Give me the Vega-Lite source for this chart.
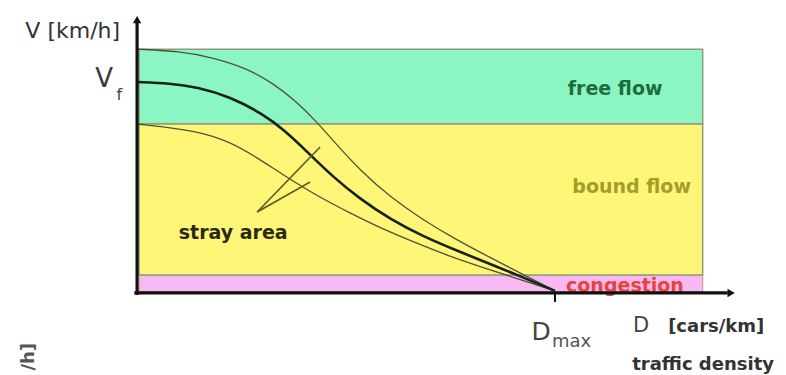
{
  "$schema": "https://vega.github.io/schema/vega-lite/v6.json",
  "width": 786,
  "height": 375,
  "padding": 0,
  "autosize": "none",
  "background": "white",
  "config": {"view": {"stroke": null}, "font": "DejaVu Sans"},
  "datasets": {
    "bands": [
      {"regime": "free flow", "D0": 0.7, "D1": 203, "V0": 80.1, "V1": 115.6},
      {"regime": "bound flow", "D0": 0.7, "D1": 203, "V0": 8.5, "V1": 80.1},
      {"regime": "congestion", "D0": 0.7, "D1": 203, "V0": 0.5, "V1": 8.5}
    ],
    "curves": [
      {"curve": "upper", "D": 0, "V": 115.6},
      {"curve": "upper", "D": 15.4, "V": 114.6},
      {"curve": "upper", "D": 27.3, "V": 111.6},
      {"curve": "upper", "D": 39.5, "V": 106.4},
      {"curve": "upper", "D": 48.8, "V": 99.5},
      {"curve": "upper", "D": 57.4, "V": 90.5},
      {"curve": "upper", "D": 64.6, "V": 81.0},
      {"curve": "upper", "D": 71.8, "V": 70.0},
      {"curve": "upper", "D": 80.6, "V": 57.5},
      {"curve": "upper", "D": 90.8, "V": 45.5},
      {"curve": "upper", "D": 102.6, "V": 34.6},
      {"curve": "upper", "D": 114.8, "V": 25.1},
      {"curve": "upper", "D": 126.7, "V": 16.8},
      {"curve": "upper", "D": 138.5, "V": 8.8},
      {"curve": "upper", "D": 150, "V": 1.0},
      {"curve": "middle", "D": 0, "V": 100.0},
      {"curve": "middle", "D": 11.8, "V": 99.4},
      {"curve": "middle", "D": 21.5, "V": 97.6},
      {"curve": "middle", "D": 33.4, "V": 93.0},
      {"curve": "middle", "D": 45.2, "V": 84.8},
      {"curve": "middle", "D": 53.0, "V": 77.0},
      {"curve": "middle", "D": 61.0, "V": 67.0},
      {"curve": "middle", "D": 70.3, "V": 55.0},
      {"curve": "middle", "D": 80.0, "V": 44.6},
      {"curve": "middle", "D": 90.8, "V": 35.0},
      {"curve": "middle", "D": 102.6, "V": 26.8},
      {"curve": "middle", "D": 114.8, "V": 20.0},
      {"curve": "middle", "D": 126.7, "V": 13.8},
      {"curve": "middle", "D": 138.5, "V": 7.4},
      {"curve": "middle", "D": 150, "V": 1.0},
      {"curve": "lower", "D": 0, "V": 80.1},
      {"curve": "lower", "D": 21.5, "V": 77.0},
      {"curve": "lower", "D": 33.4, "V": 71.6},
      {"curve": "lower", "D": 43.1, "V": 64.2},
      {"curve": "lower", "D": 52.4, "V": 56.0},
      {"curve": "lower", "D": 64.6, "V": 46.0},
      {"curve": "lower", "D": 76.4, "V": 37.9},
      {"curve": "lower", "D": 88.3, "V": 30.2},
      {"curve": "lower", "D": 100.5, "V": 23.5},
      {"curve": "lower", "D": 112.3, "V": 17.3},
      {"curve": "lower", "D": 124.2, "V": 12.0},
      {"curve": "lower", "D": 136.4, "V": 6.8},
      {"curve": "lower", "D": 150, "V": 1.0}
    ],
    "pointers": [
      {"D": 43.1, "V": 38.4, "D2": 65.7, "V2": 69.2},
      {"D": 43.1, "V": 38.4, "D2": 62.1, "V2": 52.6}
    ]
  },
  "encoding": {
    "x": {"type": "quantitative", "scale": {"domain": [-49.2, 232.9], "nice": false, "zero": false}, "axis": null},
    "y": {"type": "quantitative", "scale": {"domain": [-38.9, 138.9], "nice": false, "zero": false}, "axis": null}
  },
  "layer": [
    {
      "data": {"name": "bands"},
      "transform": [{"filter": "datum.regime === 'congestion'"}],
      "mark": {"type": "rect", "stroke": "#b8a98a", "strokeWidth": 1.2, "fill": "#f8b8f4"},
      "encoding": {
        "x": {"field": "D0", "type": "quantitative"},
        "x2": {"field": "D1"},
        "y": {"field": "V0", "type": "quantitative"},
        "y2": {"field": "V1"}
      }
    },
    {
      "data": {"values": [{"label": "congestion", "D": 175.1, "V": 0.4}]},
      "mark": {"type": "text", "align": "center", "baseline": "alphabetic", "fontSize": 19, "fontWeight": "bold", "color": "#e8443c"},
      "encoding": {
        "x": {"field": "D", "type": "quantitative"},
        "y": {"field": "V", "type": "quantitative"},
        "text": {"field": "label"}
      }
    },
    {
      "data": {"name": "bands"},
      "transform": [{"filter": "datum.regime !== 'congestion'"}],
      "mark": {"type": "rect", "stroke": "#8f9c78", "strokeWidth": 1.5},
      "encoding": {
        "x": {"field": "D0", "type": "quantitative"},
        "x2": {"field": "D1"},
        "y": {"field": "V0", "type": "quantitative"},
        "y2": {"field": "V1"},
        "fill": {
          "field": "regime",
          "type": "nominal",
          "scale": {"domain": ["free flow", "bound flow"], "range": ["#8cf5c4", "#fff677"]},
          "legend": null
        }
      }
    },
    {
      "data": {"name": "curves"},
      "transform": [{"filter": "datum.curve !== 'middle'"}],
      "mark": {"type": "line", "interpolate": "basis", "stroke": "#4e5236", "strokeWidth": 1.3},
      "encoding": {
        "x": {"field": "D", "type": "quantitative"},
        "y": {"field": "V", "type": "quantitative"},
        "detail": {"field": "curve"}
      }
    },
    {
      "data": {"name": "curves"},
      "transform": [{"filter": "datum.curve === 'middle'"}],
      "mark": {"type": "line", "interpolate": "basis", "stroke": "#16221c", "strokeWidth": 2.6},
      "encoding": {
        "x": {"field": "D", "type": "quantitative"},
        "y": {"field": "V", "type": "quantitative"}
      }
    },
    {
      "data": {"name": "pointers"},
      "mark": {"type": "rule", "stroke": "#5b5a22", "strokeWidth": 1.6},
      "encoding": {
        "x": {"field": "D", "type": "quantitative"},
        "y": {"field": "V", "type": "quantitative"},
        "x2": {"field": "D2"},
        "y2": {"field": "V2"}
      }
    },
    {
      "data": {"values": [{"D": 0, "V": -1, "V2": 128.4}]},
      "mark": {"type": "rule", "stroke": "#111111", "strokeWidth": 3.2},
      "encoding": {
        "x": {"field": "D", "type": "quantitative"},
        "y": {"field": "V", "type": "quantitative"},
        "y2": {"field": "V2"}
      }
    },
    {
      "data": {"values": [{"D": -1, "V": 0, "D2": 212}]},
      "mark": {"type": "rule", "stroke": "#111111", "strokeWidth": 3.2},
      "encoding": {
        "x": {"field": "D", "type": "quantitative"},
        "x2": {"field": "D2"},
        "y": {"field": "V", "type": "quantitative"}
      }
    },
    {
      "data": {"values": [{"D": 150, "V": 0, "V2": -4.3}]},
      "mark": {"type": "rule", "stroke": "#111111", "strokeWidth": 2},
      "encoding": {
        "x": {"field": "D", "type": "quantitative"},
        "y": {"field": "V", "type": "quantitative"},
        "y2": {"field": "V2"}
      }
    },
    {
      "data": {"values": [{"D": 0, "V": 129.6}]},
      "mark": {"type": "point", "shape": "triangle-up", "filled": true, "color": "#111111", "size": 70, "opacity": 1},
      "encoding": {
        "x": {"field": "D", "type": "quantitative"},
        "y": {"field": "V", "type": "quantitative"}
      }
    },
    {
      "data": {"values": [{"D": 213.2, "V": 0}]},
      "mark": {"type": "point", "shape": "triangle-right", "filled": true, "color": "#111111", "size": 70, "opacity": 1},
      "encoding": {
        "x": {"field": "D", "type": "quantitative"},
        "y": {"field": "V", "type": "quantitative"}
      }
    },
    {
      "data": {"values": [{"label": "V [km/h]", "D": -6.1, "V": 124.2}]},
      "mark": {"type": "text", "align": "right", "baseline": "middle", "fontSize": 22, "color": "#333333"},
      "encoding": {
        "x": {"field": "D", "type": "quantitative"},
        "y": {"field": "V", "type": "quantitative"},
        "text": {"field": "label"}
      }
    },
    {
      "data": {"values": [{"label": "V", "D": -8.6, "V": 101.4}]},
      "mark": {"type": "text", "align": "right", "baseline": "middle", "fontSize": 26, "color": "#3a3a3a"},
      "encoding": {
        "x": {"field": "D", "type": "quantitative"},
        "y": {"field": "V", "type": "quantitative"},
        "text": {"field": "label"}
      }
    },
    {
      "data": {"values": [{"label": "f", "D": -7.4, "V": 94.0}]},
      "mark": {"type": "text", "align": "left", "baseline": "middle", "fontSize": 16, "color": "#444444"},
      "encoding": {
        "x": {"field": "D", "type": "quantitative"},
        "y": {"field": "V", "type": "quantitative"},
        "text": {"field": "label"}
      }
    },
    {
      "data": {"values": [{"label": "D", "D": 145.0, "V": -18.5}]},
      "mark": {"type": "text", "align": "center", "baseline": "middle", "fontSize": 25, "color": "#444444"},
      "encoding": {
        "x": {"field": "D", "type": "quantitative"},
        "y": {"field": "V", "type": "quantitative"},
        "text": {"field": "label"}
      }
    },
    {
      "data": {"values": [{"label": "max", "D": 148.9, "V": -23.2}]},
      "mark": {"type": "text", "align": "left", "baseline": "middle", "fontSize": 18, "color": "#555555"},
      "encoding": {
        "x": {"field": "D", "type": "quantitative"},
        "y": {"field": "V", "type": "quantitative"},
        "text": {"field": "label"}
      }
    },
    {
      "data": {"values": [{"label": "D", "D": 178.0, "V": -15.6}]},
      "mark": {"type": "text", "align": "left", "baseline": "middle", "fontSize": 21, "color": "#444444"},
      "encoding": {
        "x": {"field": "D", "type": "quantitative"},
        "y": {"field": "V", "type": "quantitative"},
        "text": {"field": "label"}
      }
    },
    {
      "data": {"values": [{"label": "[cars/km]", "D": 190.6, "V": -16.1}]},
      "mark": {"type": "text", "align": "left", "baseline": "middle", "fontSize": 18, "fontWeight": "bold", "color": "#333333"},
      "encoding": {
        "x": {"field": "D", "type": "quantitative"},
        "y": {"field": "V", "type": "quantitative"},
        "text": {"field": "label"}
      }
    },
    {
      "data": {"values": [{"label": "traffic density", "D": 177.7, "V": -34.1}]},
      "mark": {"type": "text", "align": "left", "baseline": "middle", "fontSize": 18, "fontWeight": "bold", "color": "#333333"},
      "encoding": {
        "x": {"field": "D", "type": "quantitative"},
        "y": {"field": "V", "type": "quantitative"},
        "text": {"field": "label"}
      }
    },
    {
      "data": {"values": [{"label": "free flow", "D": 171.6, "V": 96.7}]},
      "mark": {"type": "text", "align": "center", "baseline": "middle", "fontSize": 19, "fontWeight": "bold", "color": "#1d6e3c"},
      "encoding": {
        "x": {"field": "D", "type": "quantitative"},
        "y": {"field": "V", "type": "quantitative"},
        "text": {"field": "label"}
      }
    },
    {
      "data": {"values": [{"label": "bound flow", "D": 177.5, "V": 50.2}]},
      "mark": {"type": "text", "align": "center", "baseline": "middle", "fontSize": 19, "fontWeight": "bold", "color": "#a39d2a"},
      "encoding": {
        "x": {"field": "D", "type": "quantitative"},
        "y": {"field": "V", "type": "quantitative"},
        "text": {"field": "label"}
      }
    },
    {
      "data": {"values": [{"label": "stray area", "D": 34.5, "V": 28.4}]},
      "mark": {"type": "text", "align": "center", "baseline": "middle", "fontSize": 19, "fontWeight": "bold", "color": "#2a2a14"},
      "encoding": {
        "x": {"field": "D", "type": "quantitative"},
        "y": {"field": "V", "type": "quantitative"},
        "text": {"field": "label"}
      }
    },
    {
      "data": {"values": [{"label": "/h]", "D": -38.8, "V": -23.7}]},
      "mark": {"type": "text", "align": "right", "baseline": "middle", "angle": 270, "fontSize": 18, "fontWeight": "bold", "color": "#555555"},
      "encoding": {
        "x": {"field": "D", "type": "quantitative"},
        "y": {"field": "V", "type": "quantitative"},
        "text": {"field": "label"}
      }
    }
  ]
}
